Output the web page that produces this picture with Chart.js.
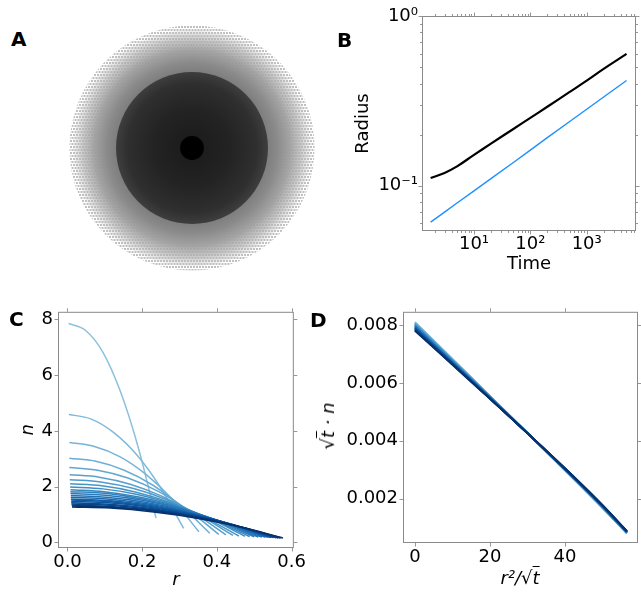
<!DOCTYPE html>
<html><head><meta charset="utf-8">
<script src="https://cdn.jsdelivr.net/npm/chart.js@4.4.1/dist/chart.umd.min.js"></script>
<style>
html,body{margin:0;padding:0;background:#fff;}
body{width:641px;height:592px;position:relative;overflow:hidden;font-family:"DejaVu Sans";}
canvas{position:absolute;}
.lab{position:absolute;font:bold 20px "DejaVu Sans";color:#000;line-height:20px;}
.ttl{position:absolute;font:italic 18px "DejaVu Sans";color:#000;line-height:22px;white-space:nowrap;}
.ov{text-decoration:overline;}
</style></head><body>
<canvas id="cA" width="280" height="280" style="left:52px;top:8px"></canvas>
<canvas id="cB" width="296" height="295" style="left:345px;top:0px"></canvas>
<canvas id="cC" width="310" height="296" style="left:0px;top:296px"></canvas>
<canvas id="cD" width="326" height="296" style="left:315px;top:296px"></canvas>
<div class="lab" style="left:11px;top:29px">A</div>
<div class="lab" style="left:337px;top:30px">B</div>
<div class="lab" style="left:9px;top:309px">C</div>
<div class="lab" style="left:310px;top:310px">D</div>
<div class="ttl" id="dYT" style="left:328px;top:426px;transform:translate(-50%,-50%) rotate(-90deg)">√<span class="ov">t</span> · n</div>
<div class="ttl" id="dXT" style="left:520px;top:578px;transform:translate(-50%,-50%)">r²/√<span class="ov">t</span></div>
<script>
// ---------- Panel A: aggregate zones (relative radius) ----------
const zoneNames = ['rim', 'outer', 'core', 'nucleus'];
const zoneRadius = [1.0, 0.965, 0.62, 0.097];

// ---------- Panel B: radius vs time ----------
const timeB = [1.7, 3, 5, 10, 20, 50, 100, 200, 500, 1000, 2000, 5100];
const radiusSim = [0.111, 0.119, 0.130, 0.152, 0.177, 0.216, 0.251, 0.292, 0.357, 0.416, 0.488, 0.598];
const radiusFit = [0.061, 0.0699, 0.0791, 0.0933, 0.110, 0.137, 0.162, 0.192, 0.239, 0.282, 0.333, 0.417];
const bXTicks = [10, 100, 1000];
const bXLabels = ['10\u00B9', '10\u00B2', '10\u00B3'];
const bYTicks = [0.1, 1];
const bYLabels = ['10\u207B\u00B9', '10\u2070'];

// ---------- Panel C: n(r) profiles, one per time ----------
const cR = [
[0.003,0.047,0.095,0.142,0.190,0.237],
[0.004,0.062,0.124,0.187,0.249,0.311],
[0.005,0.070,0.141,0.211,0.282,0.352],
[0.005,0.076,0.152,0.229,0.305,0.381],
[0.005,0.081,0.162,0.243,0.324,0.405],
[0.006,0.085,0.170,0.254,0.339,0.424],
[0.006,0.089,0.177,0.266,0.354,0.443],
[0.007,0.092,0.184,0.275,0.367,0.459],
[0.007,0.095,0.190,0.285,0.380,0.475],
[0.008,0.098,0.195,0.293,0.390,0.488],
[0.008,0.100,0.200,0.300,0.400,0.500],
[0.008,0.102,0.204,0.307,0.409,0.511],
[0.009,0.104,0.208,0.313,0.417,0.521],
[0.009,0.106,0.212,0.318,0.424,0.530],
[0.009,0.108,0.215,0.323,0.430,0.538],
[0.010,0.109,0.218,0.327,0.436,0.545],
[0.010,0.110,0.221,0.331,0.442,0.552],
[0.010,0.112,0.223,0.335,0.446,0.558],
[0.011,0.113,0.226,0.338,0.451,0.564],
[0.011,0.114,0.228,0.341,0.455,0.569],
[0.012,0.115,0.229,0.344,0.458,0.573],
[0.012,0.115,0.231,0.346,0.462,0.577]];
const cN = [
[7.85,7.62,6.82,5.40,3.38,0.87],
[4.59,4.43,3.94,3.12,1.97,0.50],
[3.58,3.45,3.07,2.43,1.53,0.38],
[3.02,2.91,2.59,2.05,1.30,0.33],
[2.69,2.59,2.31,1.83,1.15,0.29],
[2.43,2.34,2.08,1.65,1.05,0.27],
[2.25,2.17,1.93,1.53,0.97,0.25],
[2.10,2.03,1.80,1.43,0.90,0.23],
[1.99,1.92,1.71,1.35,0.86,0.22],
[1.89,1.82,1.62,1.29,0.81,0.21],
[1.82,1.76,1.56,1.24,0.78,0.20],
[1.75,1.69,1.50,1.19,0.75,0.19],
[1.68,1.62,1.44,1.14,0.73,0.19],
[1.62,1.56,1.39,1.10,0.70,0.18],
[1.56,1.50,1.34,1.06,0.68,0.18],
[1.52,1.47,1.30,1.03,0.66,0.17],
[1.47,1.42,1.26,1.00,0.64,0.17],
[1.42,1.37,1.22,0.97,0.62,0.17],
[1.38,1.33,1.18,0.94,0.60,0.16],
[1.34,1.29,1.15,0.92,0.58,0.16],
[1.31,1.26,1.13,0.90,0.57,0.16],
[1.27,1.23,1.09,0.87,0.56,0.16]];
const cXTicks = [0, 0.2, 0.4, 0.6];
const cYTicks = [0, 2, 4, 6, 8];

// ---------- Panel D: rescaled profiles ----------
const dX = [0, 14, 28, 42, 50, 56.5];
const dY = [
[.00810,.00632,.00452,.00272,.00167,.00080],
[.00809,.00631,.00452,.00272,.00168,.00080],
[.00807,.00630,.00452,.00273,.00168,.00081],
[.00806,.00630,.00452,.00273,.00169,.00081],
[.00804,.00629,.00452,.00274,.00169,.00082],
[.00803,.00628,.00452,.00274,.00170,.00082],
[.00801,.00627,.00452,.00274,.00170,.00082],
[.00800,.00626,.00451,.00275,.00171,.00083],
[.00799,.00626,.00451,.00275,.00171,.00083],
[.00797,.00625,.00451,.00275,.00172,.00083],
[.00796,.00624,.00451,.00276,.00172,.00084],
[.00794,.00623,.00451,.00276,.00173,.00084],
[.00793,.00622,.00451,.00277,.00173,.00085],
[.00791,.00621,.00451,.00277,.00174,.00085],
[.00790,.00621,.00451,.00277,.00174,.00085],
[.00789,.00620,.00450,.00278,.00175,.00086],
[.00787,.00619,.00450,.00278,.00175,.00086],
[.00786,.00618,.00450,.00278,.00176,.00086],
[.00784,.00617,.00450,.00279,.00176,.00087],
[.00783,.00617,.00450,.00279,.00177,.00087],
[.00781,.00616,.00450,.00280,.00177,.00088],
[.00780,.00615,.00450,.00280,.00178,.00088]];
const dXTicks = [0, 20, 40];
const dYTicks = [0.002, 0.004, 0.006, 0.008];

// ---------- styling helpers ----------
const BLUES = [[0,247,251,255],[0.125,222,235,247],[0.25,198,219,239],[0.375,158,202,225],[0.5,107,174,214],[0.625,66,146,198],[0.75,33,113,181],[0.875,8,81,156],[1,8,48,107]];
function blues(v){
  for(let i=1;i<BLUES.length;i++){
    if(v<=BLUES[i][0]){const a=BLUES[i-1],b=BLUES[i],f=(v-a[0])/(b[0]-a[0]);
      return 'rgb('+[1,2,3].map(j=>Math.round(a[j]+f*(b[j]-a[j]))).join(',')+')';}
  }
  return 'rgb(8,48,107)';
}
const nCurves = cN.length;
const curveColor = k => blues(0.42 + 0.58*k/(nCurves-1));
const FONT = {family:'DejaVu Sans', size:18};
const FRAME = '#8a8a8a';

function logMinors(lo, hi){ const out=[]; for(let e=-3;e<=5;e++){for(let m=2;m<=9;m++){const v=m*Math.pow(10,e); if(v>lo&&v<hi) out.push(v);}} return out; }

const frameTicks = {
  id:'frameTicks',
  afterDraw(chart, args, o){
    if(!o || !o.on) return;
    const {ctx, chartArea:a, scales:{x,y}} = chart;
    ctx.save();
    ctx.strokeStyle = FRAME; ctx.lineWidth = 1;
    ctx.strokeRect(a.left+0.5, a.top+0.5, a.right-a.left-1, a.bottom-a.top-1);
    ctx.lineWidth = 0.9;
    const vt = (vals, len) => vals.forEach(v=>{
      const p = Math.round(x.getPixelForValue(v))+0.5;
      ctx.beginPath(); ctx.moveTo(p,a.bottom); ctx.lineTo(p,a.bottom+len);
      ctx.moveTo(p,a.top); ctx.lineTo(p,a.top-len); ctx.stroke();});
    const ht = (vals, len) => vals.forEach(v=>{
      const p = Math.round(y.getPixelForValue(v))+0.5;
      ctx.beginPath(); ctx.moveTo(a.left,p); ctx.lineTo(a.left-len,p);
      ctx.moveTo(a.right,p); ctx.lineTo(a.right+len,p); ctx.stroke();});
    vt(o.xMajor||[], 3.5); vt(o.xMinor||[], 2);
    ht(o.yMajor||[], 3.5); ht(o.yMinor||[], 2);
    ctx.restore();
  }
};

function axis(c){
  return {
    type:c.type, min:c.min, max:c.max,
    afterFit:s=>{ if(c.w!==undefined) s.width=c.w; if(c.h!==undefined) s.height=c.h; },
    afterBuildTicks:s=>{ s.ticks = c.ticks.map(v=>({value:v})); },
    grid:{display:false, drawTicks:false}, border:{display:false},
    ticks:{autoSkip:false, maxRotation:0, minRotation:0, padding:c.pad, color:'#000', font:FONT,
      callback:(v,i)=>c.fmt(v,i)},
    title:{display:!!c.title, text:c.title||'', color:'#000',
      font:{family:'DejaVu Sans', size:18, style:c.italic?'italic':'normal'}, padding:c.tpad||0}
  };
}

function lineChart(id, datasets, o){
  return new Chart(document.getElementById(id), {
    type:'line',
    data:{datasets},
    options:{
      responsive:false, animation:false, events:[],
      layout:{padding:{left:0, top:o.padTop, right:o.padRight, bottom:0}},
      elements:{point:{radius:0}},
      plugins:{legend:{display:false}, tooltip:{enabled:false}, frameTicks:Object.assign({on:true}, o.fticks)},
      scales:{x:axis(o.x), y:axis(o.y)}
    },
    plugins:[frameTicks]
  });
}

// ---------- Panel A ----------
const pat = document.createElement('canvas'); pat.width=6; pat.height=6;
(function(){const p=pat.getContext('2d'); p.fillStyle='#c0c0c0';
  p.fillRect(0,0,2,2); p.fillRect(3,0,2,2); p.fillRect(1.5,3,2,2); p.fillRect(4.5,3,2,2); p.fillRect(-1.5,3,2,2);})();
const zoneFill = {
  rim:(c,cx,cy,r)=>c.ctx.createPattern(pat,'repeat'),
  outer:(c,cx,cy,r)=>{const g=c.ctx.createRadialGradient(cx,cy,0,cx,cy,r);
    g.addColorStop(0,'#7e7e7e'); g.addColorStop(0.643,'#7e7e7e'); g.addColorStop(0.72,'rgba(138,138,138,1)');
    g.addColorStop(0.83,'rgba(160,160,160,0.95)'); g.addColorStop(0.92,'rgba(178,178,178,0.7)'); g.addColorStop(1,'rgba(195,195,195,0.2)'); return g;},
  core:(c,cx,cy,r)=>{const g=c.ctx.createRadialGradient(cx,cy,0,cx,cy,r);
    g.addColorStop(0,'#1a1a1a'); g.addColorStop(0.5,'#232323'); g.addColorStop(0.85,'#2f2f2f'); g.addColorStop(1,'#3e3e3e'); return g;},
  nucleus:()=> '#000'
};
function zonePx(chart, R){ const x=chart.scales.x; return Math.abs(x.getPixelForValue(R)-x.getPixelForValue(0)); }
new Chart(document.getElementById('cA'), {
  type:'scatter',
  data:{datasets: zoneRadius.map((R,i)=>({
    data:[{x:0,y:0}], order: zoneRadius.length-1-i, clip:false,
    pointRadius: ctx=> ctx.chart.chartArea ? zonePx(ctx.chart,R) : 1,
    pointBorderWidth:0, pointHoverRadius:0,
    pointBackgroundColor: ctx=>{ const c=ctx.chart; if(!c.chartArea) return '#888';
      const cx=c.scales.x.getPixelForValue(0), cy=c.scales.y.getPixelForValue(0);
      return zoneFill[zoneNames[i]](c,cx,cy,zonePx(c,R)); }
  }))},
  options:{responsive:false, animation:false, events:[], layout:{padding:0},
    plugins:{legend:{display:false}, tooltip:{enabled:false}},
    scales:{x:{type:'linear',min:-1.134,max:1.134,display:false}, y:{type:'linear',min:-1.134,max:1.134,display:false}}}
});

// ---------- Panel B ----------
lineChart('cB', [
  {data: timeB.map((t,i)=>({x:t,y:radiusSim[i]})), borderColor:'#000', borderWidth:2.2, tension:0.4},
  {data: timeB.map((t,i)=>({x:t,y:radiusFit[i]})), borderColor:'#1e90ff', borderWidth:1.4}
], {
  padTop:16, padRight:5,
  x:{type:'logarithmic', min:1.195, max:7500, h:64, ticks:bXTicks, pad:3, fmt:(v)=>bXLabels[bXTicks.indexOf(v)]||'', title:'Time', tpad:{top:0,bottom:20}},
  y:{type:'logarithmic', min:0.0541, max:1.0, w:77, ticks:bYTicks, pad:4, fmt:(v)=>bYLabels[bYTicks.indexOf(v)]||'', title:'Radius', tpad:{top:7.5,bottom:0}},
  fticks:{xMajor:bXTicks, xMinor:logMinors(1.195,7500), yMajor:bYTicks, yMinor:logMinors(0.0541,1.0)}
});

// ---------- Panel C ----------
lineChart('cC', cN.map((row,k)=>({
  data: row.map((n,i)=>({x:cR[k][i], y:n})), borderColor:curveColor(k), borderWidth:1.5,
  cubicInterpolationMode:'monotone', order:nCurves-1-k
})), {
  padTop:12, padRight:11,
  x:{type:'linear', min:-0.0254, max:0.606, h:44, ticks:cXTicks, pad:4, fmt:(v)=>v.toFixed(1), title:'r', italic:true, tpad:{top:0,bottom:1}},
  y:{type:'linear', min:-0.201, max:8.272, w:58, ticks:cYTicks, pad:5, fmt:(v)=>String(v), title:'n', italic:true, tpad:{top:18,bottom:0}},
  fticks:{xMajor:cXTicks, yMajor:cYTicks}
});

// ---------- Panel D ----------
lineChart('cD', dY.map((row,k)=>({
  data: row.map((v,i)=>({x:dX[i], y:v})), borderColor:curveColor(k), borderWidth:1.8,
  cubicInterpolationMode:'monotone', order:nCurves-1-k
})), {
  padTop:14, padRight:3,
  x:{type:'linear', min:-3.2, max:59.47, h:49, ticks:dXTicks, pad:4, fmt:(v)=>String(v)},
  y:{type:'linear', min:0.000467, max:0.008456, w:88, ticks:dYTicks, pad:5, fmt:(v)=>v.toFixed(3)},
  fticks:{xMajor:dXTicks, yMajor:dYTicks}
});
</script>
</body></html>
